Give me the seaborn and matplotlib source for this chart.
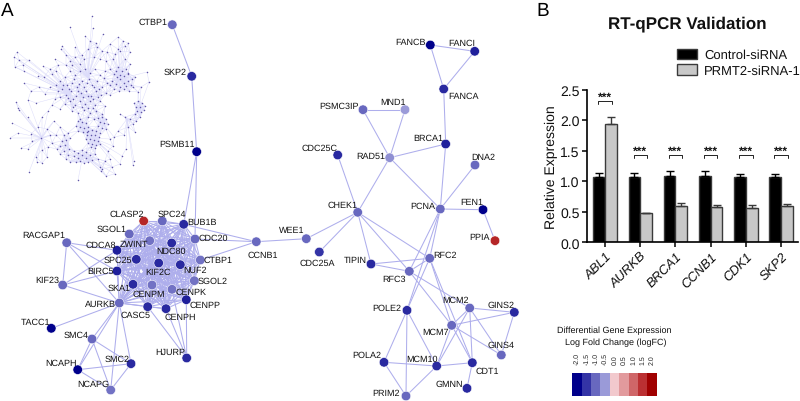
import itertools
import numpy as np
import pandas as pd
import matplotlib
matplotlib.use("Agg")
import matplotlib.pyplot as plt
import seaborn as sns
from matplotlib.collections import LineCollection
from matplotlib.colors import LinearSegmentedColormap, ListedColormap

# panel B values
genes = ["ABL1", "AURKB", "BRCA1", "CCNB1", "CDK1", "SKP2"]
control_mean = [1.07, 1.07, 1.08, 1.08, 1.07, 1.07]
control_err = [0.07, 0.06, 0.08, 0.08, 0.05, 0.05]
prmt2_mean = [1.94, 0.48, 0.59, 0.575, 0.57, 0.60]
prmt2_err = [0.12, 0.0, 0.05, 0.03, 0.04, 0.03]

# colour scale
fc_levels = [-2.0, -1.5, -1.0, -0.5, 0.0, 0.5, 1.0, 1.5, 2.0]
fc_colors = ["#00008b", "#3434a6", "#6868bf", "#9a9ad8", "#f2c9cd",
             "#e29a9d", "#cf6668", "#bb3032", "#a00000"]

# panel A nodes (layout in image pixels)
node_id = ["CTBP1top", "SKP2", "PSMB11", "CLASP2", "SPC24", "BUB1B", "SGOL1", "ZWINT", "NDC80", "CDC20",
           "CCNB1", "RACGAP1", "CDCA8", "SPC25", "CTBP1", "KIF2C", "NUF2", "BIRC5", "SGOL2", "KIF23",
           "SKA1", "CENPM", "CENPK", "CENPP", "AURKB", "CASC5", "CENPH", "TACC1", "SMC4", "SMC2",
           "HJURP", "NCAPH", "NCAPG", "FANCB", "FANCI", "FANCA", "PSMC3IP", "MND1", "BRCA1", "RAD51",
           "CDC25C", "DNA2", "CHEK1", "PCNA", "FEN1", "WEE1", "CDC25A", "PPIA", "TIPIN", "RFC2",
           "RFC3", "POLE2", "MCM2", "GINS2", "MCM7", "GINS4", "POLA2", "MCM10", "CDT1", "GMNN", "PRIM2"]
node_x = [172.3, 191.7, 196.7, 143.7, 162.3, 183.7, 129.3, 149.7, 171.7, 195.0,
          256.3, 66.7, 117.0, 136.3, 200.3, 158.7, 180.3, 117.0, 194.3, 62.7,
          133.0, 152.0, 172.0, 186.3, 119.3, 147.7, 166.0, 51.3, 92.0, 131.0,
          186.7, 77.7, 110.7, 430.3, 474.7, 443.7, 363.0, 405.0, 445.7, 389.7,
          337.7, 475.0, 357.7, 440.3, 483.0, 306.3, 319.3, 495.0, 371.0, 429.7,
          409.3, 407.0, 469.7, 514.3, 451.7, 501.3, 384.0, 436.7, 472.3, 467.0, 406.0]
node_y = [25.7, 77.3, 152.7, 222.0, 222.0, 225.3, 235.0, 241.7, 244.0, 240.0,
          242.7, 243.7, 251.3, 260.3, 261.0, 264.0, 265.7, 272.0, 281.7, 286.0,
          285.3, 286.0, 290.3, 300.7, 304.0, 307.7, 309.7, 329.3, 340.0, 364.7,
          359.0, 370.7, 391.0, 46.0, 52.3, 90.0, 110.7, 110.7, 145.0, 158.7,
          156.0, 166.0, 213.3, 210.0, 210.7, 239.7, 253.0, 241.7, 265.0, 259.3,
          272.3, 311.3, 309.0, 313.3, 326.3, 356.0, 363.3, 367.0, 363.7, 389.3, 397.0]
node_fc = [-1.0, -1.6, -2.0, 1.6, -1.0, -1.6, -1.0, -0.9, -1.6, -1.0,
           -1.0, -1.0, -1.7, -1.6, -0.9, -1.6, -1.6, -1.7, -0.9, -1.0,
           -1.6, -0.9, -0.9, -1.7, -1.0, -1.6, -1.6, -2.0, -1.0, -1.6,
           -1.6, -2.0, -0.9, -2.0, -1.7, -1.6, -1.0, -0.5, -1.7, -0.6,
           -1.6, -1.0, -1.0, -1.0, -2.0, -1.0, -1.5, 1.6, -1.6, -1.0,
           -1.0, -1.6, -1.0, -1.6, -1.0, -1.0, -1.6, -1.6, -1.6, -1.6, -1.0]

core = ["CLASP2", "SPC24", "BUB1B", "SGOL1", "ZWINT", "NDC80", "CDC20", "CDCA8", "SPC25", "CTBP1", "KIF2C",
        "NUF2", "BIRC5", "SGOL2", "SKA1", "CENPM", "CENPK", "CENPP", "AURKB", "CASC5", "CENPH"]
other_edges = [("CTBP1top", "SKP2"), ("SKP2", "PSMB11"), ("PSMB11", "BUB1B"), ("PSMB11", "CDC20"),
               ("CCNB1", "CDC20"), ("CCNB1", "CTBP1"), ("CCNB1", "BUB1B"), ("CCNB1", "WEE1"),
               ("WEE1", "CHEK1"), ("CDC25A", "CHEK1"), ("CDC25C", "CHEK1"), ("RAD51", "CHEK1"),
               ("RAD51", "PSMC3IP"), ("RAD51", "MND1"), ("PSMC3IP", "MND1"), ("RAD51", "BRCA1"),
               ("RAD51", "PCNA"), ("BRCA1", "FANCA"), ("FANCA", "FANCB"), ("FANCA", "FANCI"),
               ("FANCB", "FANCI"), ("BRCA1", "PCNA"), ("DNA2", "PCNA"), ("PCNA", "FEN1"), ("FEN1", "PPIA"),
               ("CHEK1", "TIPIN"), ("CHEK1", "RFC3"), ("CHEK1", "RFC2"), ("TIPIN", "RFC2"), ("TIPIN", "RFC3"),
               ("RFC2", "RFC3"), ("PCNA", "RFC2"), ("PCNA", "RFC3"), ("PCNA", "POLE2"), ("RFC2", "POLE2"),
               ("RFC2", "MCM7"), ("RFC2", "CDT1"), ("RFC3", "MCM2"), ("RFC3", "MCM7"), ("POLE2", "PRIM2"),
               ("POLE2", "POLA2"), ("POLE2", "MCM10"), ("POLA2", "PRIM2"), ("POLA2", "MCM10"),
               ("PRIM2", "MCM10"), ("MCM10", "CDT1"), ("MCM10", "MCM2"), ("MCM10", "MCM7"), ("MCM2", "MCM7"),
               ("MCM2", "GINS2"), ("MCM2", "GINS4"), ("MCM2", "CDT1"), ("MCM7", "GINS2"), ("MCM7", "GINS4"),
               ("MCM7", "CDT1"), ("GINS2", "GINS4"), ("CDT1", "GMNN"),
               ("RACGAP1", "KIF23"), ("RACGAP1", "CDCA8"), ("RACGAP1", "AURKB"), ("RACGAP1", "BIRC5"),
               ("KIF23", "CDCA8"), ("KIF23", "BIRC5"), ("KIF23", "AURKB"), ("AURKB", "TACC1"),
               ("AURKB", "SMC4"), ("AURKB", "SMC2"), ("AURKB", "NCAPG"), ("AURKB", "NCAPH"),
               ("SMC4", "SMC2"), ("SMC4", "NCAPH"), ("SMC4", "NCAPG"), ("SMC2", "NCAPH"), ("SMC2", "NCAPG"),
               ("NCAPH", "NCAPG"), ("HJURP", "CENPP"), ("HJURP", "CASC5"), ("HJURP", "CENPH"), ("HJURP", "CENPK")]

# where each label sits, centre in image pixels
label_pos = {"CTBP1top": (153, 22.3), "SKP2": (175, 72.7), "PSMB11": (176.7, 145), "CLASP2": (126.7, 214.7),
             "SPC24": (171.7, 214.7), "BUB1B": (202.3, 223), "SGOL1": (111.7, 230), "RACGAP1": (44, 236),
             "ZWINT": (134, 245), "CDCA8": (100.3, 246), "NDC80": (170.7, 252), "CDC20": (213.3, 239),
             "CTBP1": (218, 260.7), "SPC25": (118, 260.3), "KIF2C": (158.3, 272.3), "NUF2": (194.7, 270.3),
             "BIRC5": (100.7, 271.7), "SGOL2": (212.7, 282), "KIF23": (47.3, 281), "SKA1": (119, 288.7),
             "CENPM": (149, 294.7), "CENPK": (191, 292.7), "CENPP": (205, 306), "AURKB": (100.7, 304.3),
             "CASC5": (135.7, 315.7), "CENPH": (180.3, 318), "TACC1": (36, 323), "SMC4": (76, 336),
             "SMC2": (116.7, 359.7), "HJURP": (170, 352.3), "NCAPH": (61.3, 364), "NCAPG": (93.7, 385),
             "CCNB1": (263, 256), "FANCB": (411, 42.3), "FANCI": (461.3, 43.3), "FANCA": (464, 96.3),
             "PSMC3IP": (339.3, 106.7), "MND1": (393, 102.7), "BRCA1": (428, 138.3), "RAD51": (370.7, 156.3),
             "CDC25C": (320, 149), "DNA2": (483.3, 157.3), "CHEK1": (343, 205.3), "PCNA": (422.3, 206.7),
             "FEN1": (472, 202.3), "WEE1": (292, 231), "CDC25A": (317.3, 263.3), "PPIA": (479.3, 238),
             "TIPIN": (355, 260.3), "RFC2": (444.7, 256), "RFC3": (394, 279.7), "POLE2": (386.7, 309),
             "MCM2": (455.3, 301), "GINS2": (501.3, 306), "MCM7": (435.3, 333), "GINS4": (501.3, 346),
             "POLA2": (366.7, 355.7), "MCM10": (422, 359.7), "CDT1": (487.3, 372), "GMNN": (449, 384.3),
             "PRIM2": (385.7, 393.7)}

# overview network in the top left corner, read by eye
thumb_points = [
    (92, 17), (70, 28), (93, 29), (103, 35), (118, 38), (123, 42), (128, 44), (85, 37), (90, 42), (97, 48),
    (102, 52), (96, 44), (107, 53), (88, 50), (130, 53), (120, 52), (125, 47), (110, 45), (115, 55),
    (17, 53), (14, 58), (19, 61), (29, 61), (15, 68), (24, 72), (23, 66), (43, 67), (38, 77), (50, 70),
    (55, 60), (62, 47), (61, 50), (66, 56), (58, 66), (70, 62), (75, 58), (80, 65), (52, 75), (44, 78),
    (39, 88), (28, 101), (16, 103), (18, 109), (19, 111), (10, 139), (18, 134), (31, 135), (32, 142),
    (41, 139), (42, 151), (36, 158), (47, 158), (28, 150), (21, 149), (42, 164), (29, 173), (37, 163),
    (52, 144), (57, 150), (60, 155), (78, 181), (102, 170), (106, 177), (100, 168), (105, 162), (115, 175),
    (120, 165), (133, 166), (134, 162), (122, 157), (110, 160), (147, 73), (149, 83), (141, 88), (138, 93),
    (133, 88), (128, 75), (130, 65), (125, 60), (118, 50), (135, 115), (140, 118), (136, 122), (130, 120),
    (128, 128), (135, 133), (133, 125), (125, 118), (120, 115), (48, 112), (42, 118), (55, 100), (60, 110),
    (45, 95), (50, 88), (38, 128), (47, 130), (54, 122), (60, 128),
    (75, 48), (82, 56), (72, 66), (66, 66), (56, 72), (84, 60), (106, 62), (113, 60), (100, 60), (94, 58),
    (24, 84), (31, 92), (36, 104), (52, 106), (28, 118), (12, 124), (50, 136), (56, 136), (113, 147), (108, 152),
    (114, 138), (118, 132), (110, 140), (124, 136), (98, 160), (101, 172), (112, 168), (126, 150), (48, 148),
    # main cluster
    (60, 82), (65, 78), (70, 72), (75, 76), (80, 72), (85, 70), (90, 74), (95, 70), (100, 76), (105, 72),
    (62, 90), (67, 86), (72, 84), (77, 88), (82, 82), (87, 84), (92, 86), (97, 82), (102, 88), (107, 84),
    (60, 98), (66, 96), (71, 92), (76, 97), (81, 94), (86, 92), (91, 97), (96, 92), (101, 96), (106, 94),
    (65, 105), (70, 102), (75, 106), (80, 102), (85, 105), (90, 102), (95, 106), (100, 102), (105, 107),
    (72, 112), (78, 114), (84, 111), (90, 114), (96, 112), (102, 115), (80, 120), (88, 118), (94, 120),
    (63, 86), (69, 90), (74, 80), (79, 85), (84, 88), (89, 80), (94, 88), (99, 90), (104, 79), (73, 100),
    (78, 92), (83, 98), (88, 97), (93, 100), (98, 98), (68, 99), (73, 108), (82, 108), (88, 109), (93, 109),
    (110, 96), (58, 92), (56, 86),
    # right cluster
    (110, 70), (114, 75), (118, 68), (122, 72), (126, 70), (112, 82), (116, 85), (120, 80), (124, 84),
    (128, 82), (132, 80), (114, 90), (119, 92), (124, 90), (129, 92), (135, 78), (120, 76), (117, 78),
    (124, 77), (128, 74), (116, 72), (120, 88), (126, 87), (131, 86), (110, 86),
    # small right blob
    (134, 104), (138, 102), (142, 104), (145, 107), (136, 108), (140, 108), (144, 111), (137, 112), (141, 113),
    # lower clusters
    (78, 122), (82, 123), (86, 124), (76, 127), (80, 128), (84, 129), (88, 128), (78, 132), (83, 133), (87, 133),
    (98, 119), (102, 118), (106, 120), (100, 123), (104, 124), (108, 125), (98, 127), (102, 129), (106, 130),
    (88, 132), (92, 131), (96, 132), (100, 134), (87, 136), (91, 136), (95, 136), (99, 138), (86, 140), (90, 140),
    (94, 141), (98, 142), (88, 144), (92, 145), (96, 146), (100, 145), (91, 148), (95, 149),
    (64, 136), (68, 134), (62, 142), (66, 141), (70, 139), (60, 147), (65, 146), (69, 150), (64, 152),
    (68, 156), (66, 160), (70, 163), (74, 152), (78, 154), (82, 151), (86, 153), (74, 157), (78, 159), (82, 156),
    (86, 159), (90, 156), (76, 163), (80, 162), (84, 164), (88, 163), (92, 161), (95, 155),
]
thumb_hubs = [(80, 95), (120, 80), (93, 139), (82, 127), (103, 124), (140, 108), (83, 156), (68, 145), (42, 139),
              (127, 120), (88, 78), (70, 95)]

sns.set_theme(style="white")
plt.rcParams["font.family"] = ["Liberation Sans", "DejaVu Sans"]
plt.rcParams["text.hinting"] = "no_hinting"
plt.rcParams["text.hinting_factor"] = 1

fig = plt.figure(figsize=(8, 4.02), dpi=100, facecolor="white")

# --- panel A ---
ax = fig.add_axes([0, 0, 1, 1])

nodes = pd.DataFrame({"id": node_id, "x": node_x, "y": node_y, "logfc": node_fc}).set_index("id", drop=False)
all_edges = list(itertools.combinations(core, 2)) + other_edges
segs = [[(nodes.x[a], nodes.y[a]), (nodes.x[b], nodes.y[b])] for a, b in all_edges]
ax.add_collection(LineCollection(segs, colors="#aeaeec", linewidths=0.75, zorder=1))

fc_cmap = LinearSegmentedColormap.from_list("fc", fc_colors)
sns.scatterplot(data=nodes, x="x", y="y", hue="logfc", palette=fc_cmap, hue_norm=(-2, 2), s=47,
                edgecolor="white", linewidth=0.4, legend=False, ax=ax, zorder=2)
ax.set_xlim(0, 800)
ax.set_ylim(402, 0)
ax.axis("off")

for name, (lx, ly) in label_pos.items():
    ax.text(lx, ly, name.replace("top", ""), fontsize=6.5, ha="center", va="center", color="#111111", zorder=3)

thumb = np.array(thumb_points, dtype=float)
hubs = np.array(thumb_hubs, dtype=float)
dist = np.linalg.norm(thumb[:, None] - hubs[None], axis=2)
thumb_segs = [[tuple(p), tuple(hubs[i])] for p, i in zip(thumb, dist.argmin(axis=1))]
pair_dist = np.linalg.norm(thumb[:, None] - thumb[None], axis=2)
for i, j in zip(*np.where((pair_dist < 11) & (pair_dist > 0))):
    if i < j:
        thumb_segs.append([tuple(thumb[i]), tuple(thumb[j])])
ax.add_collection(LineCollection(thumb_segs, colors="#dcdcfa", linewidths=0.35, zorder=1))
ax.scatter(thumb[:, 0], thumb[:, 1], s=1.2, color="#5f55a8", linewidths=0, zorder=2)

ax.text(1, 11, "A", fontsize=14, ha="left", va="center", color="black")
ax.text(536, 11, "B", fontsize=14, ha="left", va="center", color="black")

# --- panel B ---
bar_ax = fig.add_axes([587.3 / 800, 1 - 243.3 / 402, (798 - 587.3) / 800, (243.3 - 90.7) / 402])
bar_ax.set_facecolor("none")
bars = pd.DataFrame({"gene": genes * 2,
                     "group": ["Control-siRNA"] * 6 + ["PRMT2-siRNA-1"] * 6,
                     "value": control_mean + prmt2_mean})
sns.barplot(data=bars, x="gene", y="value", hue="group", palette=["black", "#c8c8c8"], width=0.665,
            gap=0, errorbar=None, edgecolor="#3a3a3a", linewidth=1.0, ax=bar_ax)
bar_x = np.arange(len(genes))
for offset, mean, err, col in [(-0.166, control_mean, control_err, "black"),
                               (0.166, prmt2_mean, prmt2_err, "#3a3a3a")]:
    bar_ax.errorbar(bar_x + offset, mean, yerr=[np.zeros(6), err], fmt="none", ecolor=col,
                    elinewidth=1.0, capsize=2.8, capthick=1.0)

bar_ax.set_xlim(-0.503, 5.48)
bar_ax.set_ylim(0, 2.5)
bar_ax.set_yticks([0, 0.5, 1.0, 1.5, 2.0, 2.5])
bar_ax.set_yticklabels(["0.0", "0.5", "1.0", "1.5", "2.0", "2.5"], fontsize=10)
bar_ax.set_xticks(bar_x)
bar_ax.set_xticklabels(genes, fontsize=9.2, style="italic", rotation=45, ha="right", rotation_mode="anchor")
bar_ax.tick_params(axis="both", length=3.5, width=1.1, color="black", left=True, bottom=True, pad=2, labelcolor="#111111")
bar_ax.set_xlabel("")
bar_ax.set_ylabel("Relative Expression", fontsize=10.2, color="#111111", labelpad=1.5)
sns.despine(ax=bar_ax)
for side in ["left", "bottom"]:
    bar_ax.spines[side].set_color("black")
    bar_ax.spines[side].set_linewidth(1.2)

# significance brackets
for i, level in enumerate([2.32, 1.435, 1.435, 1.435, 1.435, 1.435]):
    bar_ax.plot([i - 0.19, i - 0.19, i + 0.19, i + 0.19], [level - 0.06, level, level, level - 0.06],
                color="#222222", lw=0.7, clip_on=False)
    bar_ax.text(i, level - 0.03, "***", fontsize=8.5, fontweight="bold", ha="center", va="bottom", color="#111111")

handles, labels = bar_ax.get_legend_handles_labels()
bar_ax.legend(handles, labels, loc="upper left", bbox_to_anchor=(677 / 800, 1 - 49.5 / 402),
              bbox_transform=fig.transFigure, frameon=False, fontsize=9.4, borderpad=0, borderaxespad=0,
              handlelength=1.5, handleheight=0.87, handletextpad=0.6, labelspacing=0.26, labelcolor="#111111")

fig.text(687.5 / 800, 1 - 24 / 402, "RT-qPCR Validation", fontsize=12.3, fontweight="bold",
         ha="center", va="center", color="#111111")

# --- colour key ---
key_ax = fig.add_axes([572.3 / 800, 1 - 397.3 / 402, (656.7 - 572.3) / 800, (397.3 - 374) / 402])
sns.heatmap(np.array([fc_levels]), cmap=ListedColormap(fc_colors), vmin=-2.25, vmax=2.25, cbar=False, ax=key_ax,
            xticklabels=[f"{v:.1f}" for v in fc_levels], yticklabels=False)
key_ax.xaxis.tick_top()
key_ax.tick_params(axis="x", length=0, pad=8.5 * 0.72, labelsize=5.2, labelrotation=90, labelcolor="#222222")
fig.text(614 / 800, 1 - 331 / 402, "Differential Gene Expression", fontsize=6.6, ha="center", va="center", color="#111111")
fig.text(615.5 / 800, 1 - 342.7 / 402, "Log Fold Change (logFC)", fontsize=6.6, ha="center", va="center", color="#111111")

fig.savefig("out.png", dpi=100)
